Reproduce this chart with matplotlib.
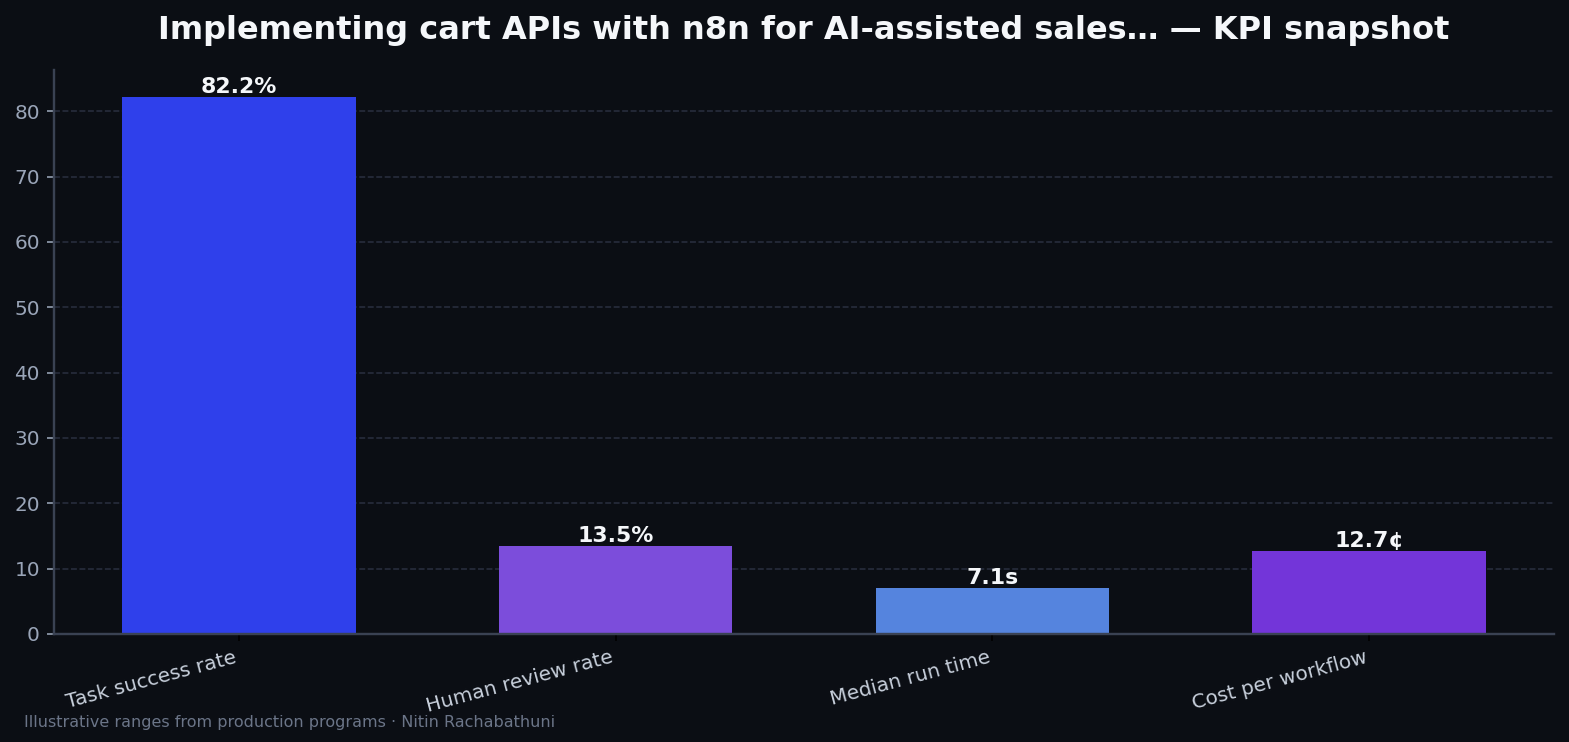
import numpy as np
import matplotlib.pyplot as plt

# KPI values
categories = ['Task success rate', 'Human review rate', 'Median run time', 'Cost per workflow']
values = [82.2, 13.5, 7.1, 12.7]
labels = ['82.2%', '13.5%', '7.1s', '12.7¢']
colors = ['#2f40eb', '#7c4ddb', '#5584de', '#7335d9']

bg = '#0b0e14'
dpi = 144
fig = plt.figure(figsize=(1569 / dpi, 742 / dpi), dpi=dpi, facecolor=bg)
ax = fig.add_axes([0.0344, 0.1456, 0.956, 0.760])
ax.set_facecolor(bg)

x = np.arange(len(categories))
bars = ax.bar(x, values, width=0.62, color=colors, zorder=2)

# value labels on top of bars
for b, lab in zip(bars, labels):
    ax.text(b.get_x() + b.get_width() / 2, b.get_height(), lab,
            ha='center', va='bottom', color='#f5f7fa', fontsize=11, fontweight='bold', zorder=3)

ax.set_xticks(x)
ax.set_xticklabels(categories, rotation=15, ha='right', fontsize=10)
ax.tick_params(axis='x', colors='#000000', labelcolor='#c8d0dc')
ax.tick_params(axis='y', colors='#9aa5b8', labelsize=10)

ax.grid(axis='y', color='#282e3e', linestyle='--', linewidth=0.8, zorder=2.5)
for s in ['top', 'right']:
    ax.spines[s].set_visible(False)
for s in ['left', 'bottom']:
    ax.spines[s].set_color('#3a4253')
    ax.spines[s].set_linewidth(1.2)

ax.set_title('Implementing cart APIs with n8n for AI-assisted sales… — KPI snapshot',
             color='#f5f7fa', fontsize=16, fontweight='bold', pad=15.5)
fig.text(0.015, 0.02, 'Illustrative ranges from production programs · Nitin Rachabathuni',
         color='#6b7588', fontsize=8)

fig.savefig('out.png', dpi=dpi, facecolor=bg)
